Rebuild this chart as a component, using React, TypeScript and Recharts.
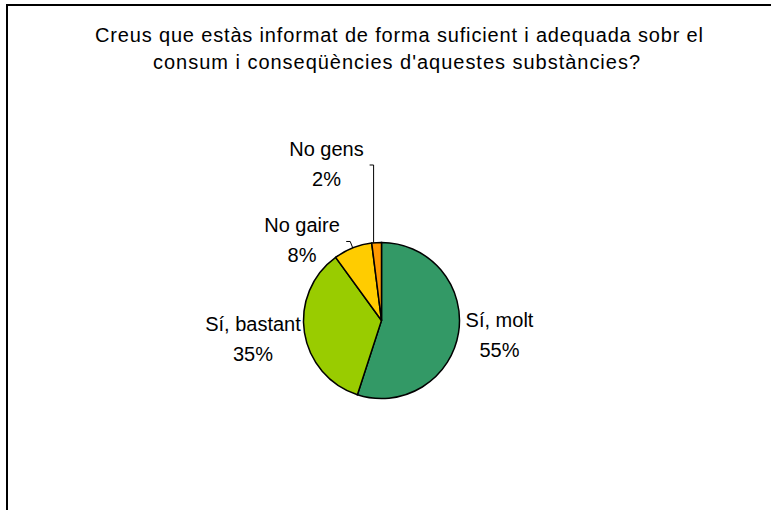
import { PieChart, Pie, Cell } from 'recharts';

const CATEGORIES = ['Sí, molt', 'Sí, bastant', 'No gaire', 'No gens'];
const VALUES = [55, 35, 8, 2];
const PERCENT_LABELS = ['55%', '35%', '8%', '2%'];
const COLORS = ['#339966', '#99CC00', '#FFCC00', '#FF9900'];

const TITLE_LINES = [
  'Creus que estàs informat de forma suficient i adequada sobr el',
  "consum i conseqüències d'aquestes substàncies?",
];

const FONT = '"Liberation Sans", Arial, sans-serif';

// label placement relative to the pie centre (first baseline of each label)
const LABEL_OFFSETS = [
  { dx: 118, dy: 6.5 },
  { dx: -128.5, dy: 10.5 },
  { dx: -79.5, dy: -88.5 },
  { dx: -55, dy: -164.5 },
];

const data = CATEGORIES.map((name, i) => ({ name, value: VALUES[i] }));

// eslint-disable-next-line @typescript-eslint/no-explicit-any
function renderLabel(props: any) {
  const { cx, cy, index } = props;
  const off = LABEL_OFFSETS[index];
  const x = cx + off.dx;
  const y = cy + off.dy;
  return (
    <text x={x} y={y} textAnchor="middle" fill="#000" fontSize={20} fontFamily={FONT}>
      <tspan x={x}>{CATEGORIES[index]}</tspan>
      <tspan x={x} dy={30}>{PERCENT_LABELS[index]}</tspan>
    </text>
  );
}

// Excel-style leader lines only on the two thin slices
// eslint-disable-next-line @typescript-eslint/no-explicit-any
function renderLabelLine(props: any) {
  const { cx, cy, midAngle, outerRadius, index } = props;
  const rad = (-midAngle * Math.PI) / 180;
  const px = cx + outerRadius * Math.cos(rad);
  const py = cy + outerRadius * Math.sin(rad);
  if (index === 3) {
    const topY = cy + LABEL_OFFSETS[3].dy + 9;
    return <path d={`M${px - 3},${py} L${px - 3},${topY} L${px - 7},${topY}`} stroke="#000" strokeWidth={1} fill="none" />;
  }
  if (index === 2) {
    const qx = cx + (outerRadius + 7) * Math.cos(rad);
    const qy = cy + (outerRadius + 7) * Math.sin(rad);
    return <path d={`M${px},${py} L${qx},${qy} L${qx - 4},${qy}`} stroke="#000" strokeWidth={1} fill="none" />;
  }
  return <g />;
}

export default function App() {
  return (
    <div style={{ position: 'absolute', left: 0, top: 0, width: 771, height: 510, overflow: 'hidden', background: '#fff' }}>
      {/* chart frame, cut off at right and bottom */}
      <div
        style={{
          position: 'absolute',
          left: 6,
          top: 4,
          width: 900,
          height: 700,
          borderTop: '2px solid #000',
          borderLeft: '2px solid #000',
        }}
      />
      <svg width={771} height={100} style={{ position: 'absolute', left: 0, top: 0 }}>
        <text x={399} y={41.5} textAnchor="middle" fontSize={20} fontFamily={FONT} fill="#000" textLength={608} lengthAdjust="spacing">
          {TITLE_LINES[0]}
        </text>
        <text x={396.5} y={69} textAnchor="middle" fontSize={20} fontFamily={FONT} fill="#000" textLength={487} lengthAdjust="spacing">
          {TITLE_LINES[1]}
        </text>
      </svg>
      <div style={{ position: 'absolute', left: 0, top: 0 }}>
        <PieChart width={771} height={510} margin={{ top: 0, right: 0, bottom: 0, left: 0 }}>
          <Pie
            data={data}
            dataKey="value"
            nameKey="name"
            cx={381.5}
            cy={320.5}
            outerRadius={78}
            startAngle={90}
            endAngle={-270}
            stroke="#000"
            strokeWidth={1.5}
            label={renderLabel}
            labelLine={renderLabelLine}
            isAnimationActive={false}
          >
            {data.map((d, i) => (
              <Cell key={d.name} fill={COLORS[i]} />
            ))}
          </Pie>
        </PieChart>
      </div>
    </div>
  );
}
